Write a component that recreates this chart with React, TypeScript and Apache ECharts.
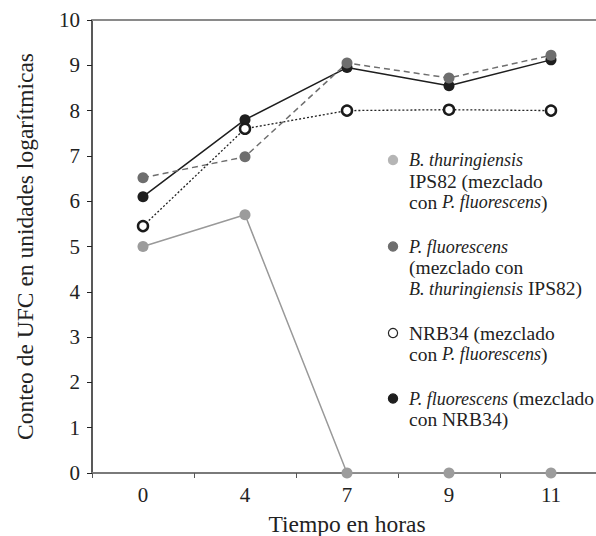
import React, { useEffect, useRef } from "react";
import * as echarts from "echarts";

const hours = ["0", "4", "7", "9", "11"];
const yTicks = [0, 1, 2, 3, 4, 5, 6, 7, 8, 9, 10];

const btIPS82 = [5.0, 5.7, 0, 0, 0];
const pfWithBt = [6.52, 6.98, 9.05, 8.72, 9.22];
const nrb34 = [5.45, 7.6, 8.0, 8.02, 8.0];
const pfWithNrb = [6.1, 7.8, 8.95, 8.55, 9.12];

const legendItems = [
  {
    name: "B. thuringiensis IPS82 (mezclado con P. fluorescens)",
    lines: ["{i|B. thuringiensis}", "{r|IPS82 (mezclado}", "{r|con }{i|P. fluorescens}{r|)}"],
    fill: "#b5b5b5",
    stroke: "#b5b5b5",
  },
  {
    name: "P. fluorescens (mezclado con B. thuringiensis IPS82)",
    lines: ["{i|P. fluorescens}", "{r|(mezclado con}", "{i|B. thuringiensis}{r| IPS82)}"],
    fill: "#6e6e6e",
    stroke: "#6e6e6e",
  },
  {
    name: "NRB34 (mezclado con P. fluorescens)",
    lines: ["{r|NRB34 (mezclado}", "{r|con }{i|P. fluorescens}{r|)}"],
    fill: "#ffffff",
    stroke: "#222222",
  },
  {
    name: "P. fluorescens (mezclado con NRB34)",
    lines: ["{i|P. fluorescens}{r| (mezclado}", "{r|con NRB34)}"],
    fill: "#1e1e1e",
    stroke: "#1e1e1e",
  },
];

const FONT = "'Liberation Serif', 'Times New Roman', serif";

export default function App() {
  const ref = useRef<HTMLDivElement>(null);
  useEffect(() => {
    if (!ref.current) return;
    const chart = echarts.init(ref.current, null, { renderer: "svg" });

    const lineH = 21;
    const gap = 23.5;
    const legendChildren: any[] = [];
    let y = 160;
    legendItems.forEach((it) => {
      legendChildren.push({
        type: "circle",
        shape: { cx: 393, cy: y, r: 4.6 },
        style: { fill: it.fill, stroke: it.stroke, lineWidth: 1.2 },
      });
      legendChildren.push({
        type: "text",
        x: 409,
        y: y - lineH / 2,
        style: {
          text: it.lines.join("\n"),
          verticalAlign: "top",
          align: "left",
          fill: "#222",
          rich: {
            i: { fontFamily: FONT, fontSize: 18, fontStyle: "italic", lineHeight: lineH, fill: "#222" },
            r: { fontFamily: FONT, fontSize: 19.5, lineHeight: lineH, fill: "#222" },
          },
        },
      });
      y += it.lines.length * lineH + gap;
    });

    const base = {
      type: "line",
      xAxisIndex: 0,
      symbol: "circle",
      symbolSize: 11,
    };

    chart.setOption({
      animation: false,
      grid: {
        left: 92,
        top: 20,
        width: 510,
        bottom: 63,
        containLabel: false,
        outerBoundsMode: "none",
      },
      xAxis: [
        {
          type: "category",
          data: hours,
          boundaryGap: true,
          position: "bottom",
          name: "Tiempo en horas",
          nameLocation: "middle",
          nameGap: 39,
          nameTextStyle: { fontFamily: FONT, fontSize: 23.5, color: "#222" },
          axisLine: { lineStyle: { color: "#7a7a7a", width: 2 } },
          axisTick: { show: true, length: 5, lineStyle: { color: "#555", width: 1 } },
          axisLabel: { fontFamily: FONT, fontSize: 21, color: "#222", margin: 11 },
          splitLine: { show: false },
        },
        {
          type: "category",
          data: hours,
          position: "top",
          axisLine: { lineStyle: { color: "#8a8a8a", width: 2 } },
          axisTick: { show: false },
          axisLabel: { show: false },
          splitLine: { show: false },
        },
      ],
      yAxis: {
        type: "value",
        min: yTicks[0],
        max: yTicks[yTicks.length - 1],
        interval: 1,
        name: "Conteo de UFC en unidades logarítmicas",
        nameLocation: "middle",
        nameGap: 55,
        nameTextStyle: { fontFamily: FONT, fontSize: 23.5, color: "#222" },
        axisLine: { show: true, lineStyle: { color: "#222", width: 1.5 } },
        axisTick: { show: true, length: 5, lineStyle: { color: "#222", width: 1 } },
        axisLabel: { fontFamily: FONT, fontSize: 21, color: "#222", margin: 12 },
        splitLine: { show: false },
      },
      series: [
        {
          ...base,
          name: legendItems[0].name,
          data: btIPS82,
          lineStyle: { color: "#999999", width: 1.5 },
          itemStyle: { color: "#9c9c9c" },
        },
        {
          ...base,
          name: legendItems[3].name,
          data: pfWithNrb,
          lineStyle: { color: "#1e1e1e", width: 1.5 },
          itemStyle: { color: "#1e1e1e" },
        },
        {
          ...base,
          name: legendItems[1].name,
          data: pfWithBt,
          lineStyle: { color: "#6e6e6e", width: 1.5, type: [6, 4] },
          itemStyle: { color: "#6e6e6e" },
        },
        {
          ...base,
          name: legendItems[2].name,
          data: nrb34,
          symbolSize: 10,
          lineStyle: { color: "#222", width: 1.3, type: [2, 2] },
          itemStyle: { color: "#ffffff", borderColor: "#1a1a1a", borderWidth: 2.5 },
        },
      ],
      graphic: [{ type: "group", children: legendChildren }],
    });
    return () => chart.dispose();
  }, []);
  return (
    <div
      ref={ref}
      style={{ position: "fixed", left: 0, top: 0, width: 596, height: 536, background: "#fff" }}
    />
  );
}
